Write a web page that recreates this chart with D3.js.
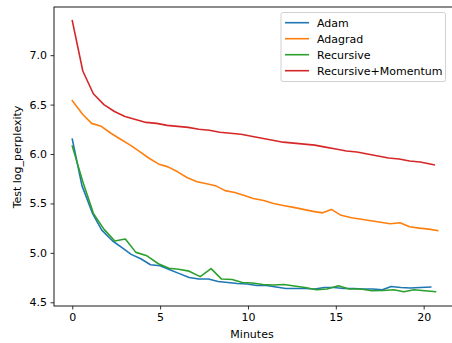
<!DOCTYPE html>
<html><head><meta charset="utf-8">
<script src="https://cdn.jsdelivr.net/npm/d3@7"></script>
<style>body{margin:0;background:#fff}svg{display:block;font-family:"DejaVu Sans",sans-serif}</style>
</head><body><svg id="c" width="452" height="343"></svg>
<script>
const seriesNames = ["Adam","Adagrad","Recursive","Recursive+Momentum"];
const seriesColors = ["#1f77b4","#ff7f0e","#2ca02c","#d62728"];
const adamTime = [0,0.55,1.15,1.68,2.3,2.85,3.35,3.9,4.45,5.0,5.55,6.1,6.65,7.2,7.75,8.3,8.85,9.4,9.95,10.5,11.05,11.6,12.15,12.7,13.25,13.8,14.35,14.9,15.45,16.0,16.55,17.1,17.65,18.15,18.7,19.25,19.8,20.4];
const adamVal = [6.15,5.68,5.40,5.23,5.12,5.05,4.985,4.94,4.88,4.87,4.83,4.79,4.75,4.735,4.735,4.71,4.70,4.69,4.685,4.67,4.67,4.655,4.64,4.64,4.64,4.635,4.65,4.65,4.64,4.64,4.635,4.635,4.627,4.66,4.65,4.645,4.65,4.655];
const adagradTime = [0,0.6,1.1,1.65,2.2,2.75,3.3,3.8,4.35,4.9,5.45,6.0,6.55,7.1,7.65,8.15,8.7,9.25,9.8,10.3,10.9,11.45,12.0,12.6,13.15,13.7,14.25,14.75,15.3,15.9,16.45,17.0,17.55,18.1,18.65,19.2,19.75,20.3,20.8];
const adagradVal = [6.54,6.40,6.31,6.28,6.21,6.15,6.09,6.03,5.96,5.90,5.87,5.82,5.76,5.72,5.70,5.68,5.63,5.61,5.58,5.55,5.53,5.50,5.48,5.46,5.44,5.42,5.405,5.44,5.38,5.355,5.34,5.325,5.31,5.295,5.305,5.265,5.25,5.24,5.225];
const recursiveTime = [0,0.6,1.2,1.8,2.42,3.02,3.62,4.25,4.9,5.5,6.05,6.65,7.28,7.9,8.5,9.1,9.68,10.25,10.85,11.45,12.05,12.63,13.25,13.9,14.5,15.15,15.75,16.4,17.05,17.7,18.3,18.87,19.45,20.05,20.67];
const recursiveVal = [6.08,5.72,5.40,5.24,5.12,5.14,5.005,4.97,4.89,4.845,4.835,4.815,4.76,4.84,4.735,4.73,4.70,4.695,4.68,4.675,4.68,4.665,4.65,4.627,4.635,4.668,4.635,4.635,4.617,4.62,4.627,4.607,4.627,4.617,4.607];
const momentumTime = [0,0.6,1.2,1.8,2.4,3.0,3.6,4.2,4.8,5.4,6.0,6.6,7.2,7.8,8.4,9.0,9.6,10.2,10.8,11.4,12.0,12.6,13.2,13.8,14.4,15.0,15.6,16.2,16.8,17.4,18.0,18.6,19.2,19.8,20.6];
const momentumVal = [7.35,6.84,6.61,6.50,6.43,6.38,6.35,6.32,6.31,6.29,6.28,6.27,6.25,6.24,6.22,6.21,6.20,6.18,6.16,6.14,6.12,6.11,6.10,6.09,6.07,6.05,6.03,6.02,6.00,5.98,5.96,5.95,5.93,5.92,5.89];
const xTicks = [0,5,10,15,20];
const yTicks = [4.5,5.0,5.5,6.0,6.5,7.0];
const xLabel = "Minutes", yLabel = "Test log_perplexity";

const series = [
  {name:seriesNames[0], t:adamTime, v:adamVal, c:seriesColors[0]},
  {name:seriesNames[1], t:adagradTime, v:adagradVal, c:seriesColors[1]},
  {name:seriesNames[2], t:recursiveTime, v:recursiveVal, c:seriesColors[2]},
  {name:seriesNames[3], t:momentumTime, v:momentumVal, c:seriesColors[3]}
];

const L=54, T=7, R=456, B=306, FS=11;
const svg = d3.select("#c");
const x = d3.scaleLinear().domain([-1.04, 21.84]).range([L, R]);
const y = d3.scaleLinear().domain([4.4625, 7.4875]).range([B, T]);

const line = d3.line().x(d=>x(d[0])).y(d=>y(d[1]));
series.forEach(s=>{
  svg.append("path").datum(s.t.map((t,i)=>[t,s.v[i]]))
    .attr("d", line).attr("fill","none").attr("stroke", s.c)
    .attr("stroke-width",1.6).attr("stroke-linejoin","round").attr("stroke-linecap","square");
});

// spines
svg.append("rect").attr("x",L).attr("y",T).attr("width",R-L).attr("height",B-T)
  .attr("fill","none").attr("stroke","#000").attr("stroke-width",0.9);

const xa = svg.append("g").attr("transform",`translate(0,${B})`)
  .call(d3.axisBottom(x).tickValues(xTicks).tickSize(3.5).tickPadding(3.5).tickFormat(d3.format("d")));
const ya = svg.append("g").attr("transform",`translate(${L},0)`)
  .call(d3.axisLeft(y).tickValues(yTicks).tickSize(3.5).tickPadding(3.5).tickFormat(d3.format(".1f")));
[xa,ya].forEach(a=>{
  a.select(".domain").remove();
  a.selectAll("text").attr("font-size",FS).attr("fill","#000").attr("font-family","DejaVu Sans");
  a.selectAll("line").attr("stroke","#000").attr("stroke-width",0.8);
});

svg.append("text").attr("x",(L+R)/2 - 3).attr("y",338).attr("text-anchor","middle")
  .attr("font-size",FS).text(xLabel);
svg.append("text").attr("transform","translate(21,157) rotate(-90)").attr("text-anchor","middle")
  .attr("font-size",FS).text(yLabel);

// legend
const lg = svg.append("g");
lg.append("rect").attr("x",281).attr("y",12.5).attr("width",164.5).attr("height",69).attr("rx",2)
  .attr("fill","#fff").attr("fill-opacity",0.8).attr("stroke","#ccc").attr("stroke-width",0.9);
series.forEach((s,i)=>{
  const yy = 22.7 + i*16;
  lg.append("line").attr("x1",285).attr("x2",309).attr("y1",yy).attr("y2",yy)
    .attr("stroke",s.c).attr("stroke-width",1.6);
  lg.append("text").attr("x",317).attr("y",yy+4).attr("font-size",FS).text(s.name);
});
</script></body></html>
